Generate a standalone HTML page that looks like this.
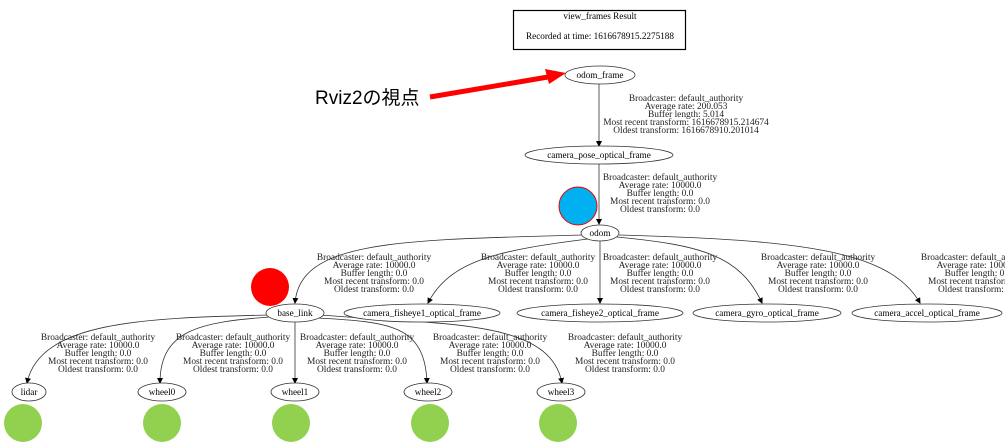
<!DOCTYPE html>
<html><head><meta charset="utf-8"><style>body{margin:0;background:#fff}svg{display:block}</style></head><body>
<svg width="1005" height="447" viewBox="0 0 1005 447" xmlns="http://www.w3.org/2000/svg" font-family="'Liberation Serif',serif" font-size="9.2" fill="#000">
<defs><marker id="a" markerWidth="6" markerHeight="6" refX="5" refY="3" orient="auto" markerUnits="userSpaceOnUse"><path d="M0,0 L6,3 L0,6z" fill="#000"/></marker>
<g id="L" text-anchor="middle" fill="#222" font-size="9.4">
<text x="0" y="0">Broadcaster: default_authority</text>
<text x="0" y="8">Average rate: 10000.0</text>
<text x="0" y="16">Buffer length: 0.0</text>
<text x="0" y="24">Most recent transform: 0.0</text>
<text x="0" y="32">Oldest transform: 0.0</text>
</g></defs>
<rect x="513.5" y="10.5" width="172" height="39" fill="none" stroke="#000" stroke-width="1.2"/>
<text x="600" y="19" text-anchor="middle">view_frames Result</text>
<text x="600" y="39" text-anchor="middle">Recorded at time: 1616678915.2275188</text>
<g fill="none" stroke="#333" stroke-width="0.8" marker-end="url(#a)">
<path d="M599,84 L599,146"/>
<path d="M599,164 L599,224"/>
<path d="M582,235 C400,240 300,240 295,303"/>
<path d="M588,239 C500,250 450,260 428,303"/>
<path d="M600,241 L600,303"/>
<path d="M617,237 C700,245 740,255 762,303"/>
<path d="M619,235 C800,240 890,250 920,303"/>
<path d="M268,315 C150,318 40,320 27,383"/>
<path d="M270,317 C200,322 160,330 160,383"/>
<path d="M295,322 L295,383"/>
<path d="M318,318 C390,322 425,325 427,383"/>
<path d="M320,315 C450,325 550,320 562,383"/>
</g>
<g fill="#fff" stroke="#333" stroke-width="0.8">
<ellipse cx="600" cy="75" rx="35" ry="9"/>
<ellipse cx="599" cy="155" rx="74" ry="9"/>
<ellipse cx="600" cy="233" rx="19" ry="8"/>
<ellipse cx="295" cy="313" rx="29" ry="9"/>
<ellipse cx="422" cy="313" rx="78" ry="9"/>
<ellipse cx="600" cy="313" rx="83" ry="9"/>
<ellipse cx="767" cy="313" rx="74" ry="9"/>
<ellipse cx="927" cy="313" rx="75" ry="9"/>
<ellipse cx="29" cy="392" rx="17" ry="9"/>
<ellipse cx="162" cy="392" rx="24" ry="9"/>
<ellipse cx="295" cy="392" rx="24" ry="9"/>
<ellipse cx="428" cy="392" rx="24" ry="9"/>
<ellipse cx="561" cy="392" rx="24" ry="9"/>
</g>
<g text-anchor="middle">
<text x="600" y="78">odom_frame</text>
<text x="599" y="158">camera_pose_optical_frame</text>
<text x="600" y="236">odom</text>
<text x="295" y="316">base_link</text>
<text x="422" y="316">camera_fisheye1_optical_frame</text>
<text x="600" y="316">camera_fisheye2_optical_frame</text>
<text x="767" y="316">camera_gyro_optical_frame</text>
<text x="927" y="316">camera_accel_optical_frame</text>
<text x="29" y="395">lidar</text>
<text x="162" y="395">wheel0</text>
<text x="295" y="395">wheel1</text>
<text x="428" y="395">wheel2</text>
<text x="561" y="395">wheel3</text>
</g>
<g text-anchor="middle" fill="#222" font-size="9.4">
<text x="686" y="101">Broadcaster: default_authority</text>
<text x="686" y="109">Average rate: 200.053</text>
<text x="686" y="117">Buffer length: 5.014</text>
<text x="686" y="125">Most recent transform: 1616678915.214674</text>
<text x="686" y="133">Oldest transform: 1616678910.201014</text>
</g>
<use href="#L" transform="translate(660,180)"/>
<use href="#L" transform="translate(374,260)"/>
<use href="#L" transform="translate(538,260)"/>
<use href="#L" transform="translate(660,260)"/>
<use href="#L" transform="translate(818,260)"/>
<use href="#L" transform="translate(978,260)"/>
<use href="#L" transform="translate(98,340)"/>
<use href="#L" transform="translate(233,340)"/>
<use href="#L" transform="translate(357,340)"/>
<use href="#L" transform="translate(490,340)"/>
<use href="#L" transform="translate(625,340)"/>
<circle cx="578" cy="206" r="19" fill="#00b0f0" stroke="#e00" stroke-width="1"/>
<circle cx="270" cy="287" r="19" fill="#ff0000"/>
<g fill="#92d050">
<circle cx="23" cy="423" r="19"/><circle cx="162" cy="423" r="19"/><circle cx="291" cy="423" r="19"/><circle cx="430" cy="423" r="19"/><circle cx="558" cy="423" r="19"/>
</g>
<line x1="430" y1="97" x2="548" y2="77" stroke="#ff0000" stroke-width="5"/>
<path d="M566,73 L545,69 L549,84z" fill="#ff0000"/>
<text x="315" y="104" font-family="'Liberation Sans','Noto Sans CJK JP',sans-serif" font-size="19">Rviz2の視点</text>
</svg>
</body></html>
